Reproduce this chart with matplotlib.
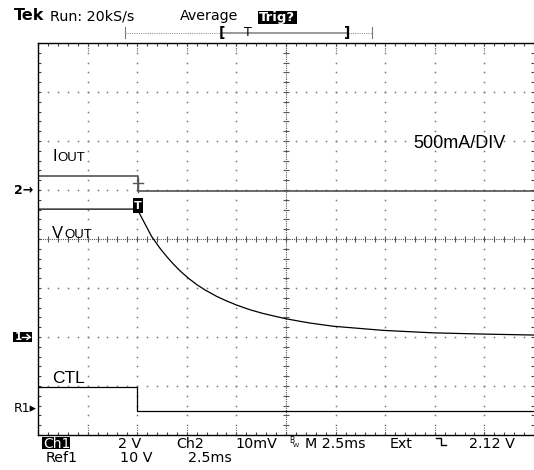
import numpy as np
import matplotlib.pyplot as plt
from matplotlib.lines import Line2D
from matplotlib.patches import Rectangle

W, H = 534, 470

# horizontal: 2.5 ms/div, trigger (t = 0) two divisions from the left
t_div = 2.5
trig_div = 2.0

# Ch1 - VOUT, 2 V/div, ground marker at -2 div
vout_t = [-5.0, 0.04, 0.11, 0.73, 1.15, 1.49, 1.82, 2.16, 2.58, 3.0, 3.42, 4.0, 4.51,
          5.02, 5.69, 6.35, 7.03, 7.53, 8.21, 8.71, 9.87, 12.4, 14.9, 17.4, 20.0]
vout_v = [5.22, 5.22, 5.05, 4.10, 3.62, 3.28, 2.98, 2.70, 2.40, 2.14, 1.92, 1.66, 1.47,
          1.30, 1.11, 0.96, 0.83, 0.74, 0.64, 0.57, 0.44, 0.27, 0.17, 0.12, 0.08]
ch1_vdiv, ch1_gnd = 2.0, -2.0

# Ch2 - IOUT, 500 mA/div, ground marker at +1 div
iout_t = [-5.0, 0.03, 0.03, 20.0]
iout_ma = [145, 145, -15, -15]
ch2_div, ch2_gnd = 500.0, 1.0

# Ref1 - CTL, 10 V/div, ground marker at -3.5 div
ctl_t = [-5.0, -0.02, -0.02, 20.0]
ctl_v = [4.8, 4.8, 0.0, 0.0]
ref1_div, ref1_gnd = 10.0, -3.5


def fx(x):
    return x / W


def fy(y):
    return 1 - y / H


def pline(xs, ys, **kw):
    fig.add_artist(Line2D([fx(x) for x in xs], [fy(y) for y in ys],
                          transform=fig.transFigure, **kw))


def ptext(x, y, s, **kw):
    return fig.text(fx(x), fy(y), s, **kw)


def pbox(x0, y0, x1, y1, color='k'):
    fig.add_artist(Rectangle((fx(x0), fy(y1)), (x1 - x0) / W, (y1 - y0) / H,
                             transform=fig.transFigure, color=color, lw=0))


fig = plt.figure(figsize=(W / 100, H / 100), dpi=100)
fig.patch.set_facecolor('white')
ax = fig.add_axes([38 / W, fy(435), 496 / W, 392 / H])
ax.set_xlim(0, 10)
ax.set_ylim(-4, 4)
ax.set_xticks([])
ax.set_yticks([])
ax.spines['right'].set_visible(False)
for s in ['left', 'top', 'bottom']:
    ax.spines[s].set_linewidth(1.0)
    ax.spines[s].set_color('black')

# graticule: dotted division lines
ys_minor = np.arange(-4, 4.001, 0.2)
xs_minor = np.arange(0, 10.001, 0.2)
for gx in range(1, 10):
    if gx == 5:
        continue
    ax.plot(np.full(len(ys_minor), gx), ys_minor, ls='none', marker='s', ms=1.1,
            mec='none', mfc='#777')
for gy in range(-3, 4):
    if gy == 0:
        continue
    ax.plot(xs_minor, np.full(len(xs_minor), gy), ls='none', marker='s', ms=1.1,
            mec='none', mfc='#777')

# centre cross with minor ticks
ax.axvline(5, ls=(0, (1, 1)), lw=0.8, color='#555')
ax.axhline(0, ls=(0, (1, 1)), lw=0.8, color='#555')
ax.vlines(xs_minor, -0.07, 0.07, color='#555', lw=0.8)
ax.hlines(ys_minor, 5 - 0.06, 5 + 0.06, color='#555', lw=0.8)
# edge ticks
ax.vlines(xs_minor, 4 - 0.07, 4, color='#444', lw=0.8)
ax.vlines(xs_minor, -4, -4 + 0.07, color='#444', lw=0.8)
ax.hlines(ys_minor, 0, 0.06, color='#444', lw=0.8)
ax.hlines(ys_minor, 10 - 0.06, 10, color='#444', lw=0.8)
ax.vlines(range(1, 10), 4 - 0.16, 4, color='#666', lw=0.8, ls=(0, (1, 1)))
ax.vlines(range(1, 10), -4, -4 + 0.16, color='#666', lw=0.8, ls=(0, (1, 1)))

# traces
ax.plot(np.array(iout_t) / t_div + trig_div, np.array(iout_ma) / ch2_div + ch2_gnd,
        color='#444', lw=1.1)
ax.plot(np.array(vout_t) / t_div + trig_div, np.array(vout_v) / ch1_vdiv + ch1_gnd,
        color='black', lw=0.9)
ax.plot(np.array(ctl_t) / t_div + trig_div, np.array(ctl_v) / ref1_div + ref1_gnd,
        color='black', lw=0.9)

# trigger markers
pline([133, 143], [183, 183], color='#555', lw=1.0)
pline([138, 138], [178, 192], color='#555', lw=1.0)
pbox(133, 198, 143, 213)
ptext(138, 206, 'T', color='white', fontsize=8, fontweight='bold', ha='center', va='center')

# on-screen labels
lab = dict(family='Liberation Sans', color='black')
ptext(52, 161, 'I', fontsize=12, va='baseline', **lab)
ptext(57, 161, 'OUT', fontsize=9.5, va='baseline', **lab)
ptext(52, 238, 'V', fontsize=12, va='baseline', **lab)
ptext(64, 238, 'OUT', fontsize=9.5, va='baseline', **lab)
ptext(52, 383, 'CTL', fontsize=12.5, va='baseline', **lab)
ptext(413, 148, '500mA/DIV', fontsize=13, va='baseline', **lab)

# channel ground markers
ptext(14, 191, '2\u2192', fontsize=9, fontweight='bold', va='center')
pbox(13, 332, 32, 342)
ptext(15, 337, '1', fontsize=7.5, fontweight='bold', color='white', va='center')
pline([22, 30], [337, 337], color='white', lw=1.0)
pline([27, 30, 27], [334.5, 337, 339.5], color='white', lw=1.0)
ptext(14, 409, 'R1\u25b8', fontsize=9, va='center')

# header
ptext(14, 20, 'Tek', fontsize=11.5, fontweight='bold', va='baseline')
ptext(50, 20, 'Run: 20kS/s', fontsize=10.3, va='baseline')
ptext(180, 20, 'Average', fontsize=10.3, va='baseline')
pbox(258, 11, 297, 24)
ptext(259, 21, 'Trig?', fontsize=9.5, fontweight='bold', color='white', va='baseline')

# record view bar
pline([125, 125], [27, 38], color='#777', lw=0.8)
pline([372, 372], [27, 38], color='#777', lw=0.8)
pline([125, 222], [33, 33], color='#999', lw=0.8, ls=(0, (1, 1)))
pline([348, 372], [33, 33], color='#999', lw=0.8, ls=(0, (1, 1)))
pline([222, 348], [33, 33], color='#888', lw=1.2)
ptext(219, 33, '[', fontsize=10, fontweight='bold', va='center')
ptext(344, 33, ']', fontsize=10, fontweight='bold', va='center')
ptext(248, 33, 'T', fontsize=9, ha='center', va='center')

# footer
pbox(42, 437, 70, 449)
ptext(43, 448, 'Ch1', fontsize=10, color='white', va='baseline')
ptext(118, 448, '2 V', fontsize=10.3, va='baseline')
ptext(176, 448, 'Ch2', fontsize=10.3, va='baseline')
ptext(235, 448, '10mV', fontsize=10.3, va='baseline')
ptext(289, 443, 'B', fontsize=5.5, va='baseline')
ptext(293, 447, 'W', fontsize=4.5, va='baseline')
ptext(305, 448, 'M 2.5ms', fontsize=10.3, va='baseline')
ptext(390, 448, 'Ext', fontsize=10.3, va='baseline')
pline([436, 441, 441, 446], [438, 438, 445, 445], color='black', lw=1.0)
ptext(469, 448, '2.12 V', fontsize=10.3, va='baseline')
ptext(46, 462, 'Ref1', fontsize=10.3, va='baseline')
ptext(120, 462, '10 V', fontsize=10.3, va='baseline')
ptext(188, 462, '2.5ms', fontsize=10.3, va='baseline')

fig.savefig('out.png', dpi=100)
